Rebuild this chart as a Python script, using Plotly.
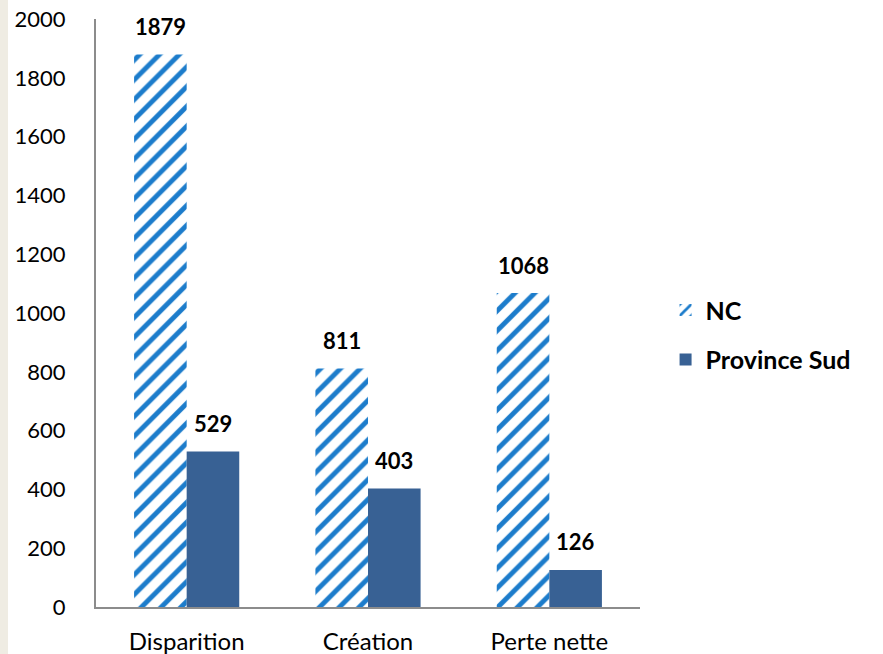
import plotly.graph_objects as go

categories = ["Disparition", "Création", "Perte nette"]
nc_values = [1879, 811, 1068]
sud_values = [529, 403, 126]
y_ticks = list(range(0, 2001, 200))

NC_BLUE = "#1C7CCB"
SUD_BLUE = "#386194"
AXIS_GREY = "#8C8C8C"
FONT = "Lato, 'Open Sans', sans-serif"

fig = go.Figure()

fig.add_trace(
    go.Bar(
        x=categories, y=nc_values, name="<b>NC</b>",
        legendgroup="nc",
        marker=dict(
            color="white",
            line=dict(width=0),
            pattern=dict(shape="/", fgcolor=NC_BLUE, bgcolor="white",
                         size=14, solidity=0.35, fillmode="replace"),
        ),
    )
)
fig.add_trace(
    go.Bar(
        x=categories, y=sud_values, name="<b>Province Sud</b>",
        legendgroup="sud",
        marker=dict(color=SUD_BLUE, line=dict(width=0)),
    )
)

# value labels above each bar
for cat, v in zip(categories, nc_values):
    fig.add_annotation(x=cat, y=v, text=f"<b>{v}</b>", showarrow=False,
                       xshift=-26, yshift=28, yanchor="middle",
                       font=dict(size=22, color="black", family=FONT))
for cat, v in zip(categories, sud_values):
    fig.add_annotation(x=cat, y=v, text=f"<b>{v}</b>", showarrow=False,
                       xshift=26, yshift=28, yanchor="middle",
                       font=dict(size=22, color="black", family=FONT))

# beige strip on the left edge
fig.add_shape(type="rect", xref="paper", yref="paper",
              x0=-96 / 544, x1=-88 / 544, y0=-47 / 588, y1=1 + 19 / 588,
              fillcolor="#EFECE3", line=dict(width=0), layer="below")

fig.update_layout(
    width=883, height=654,
    margin=dict(l=96, r=243, t=19, b=47, autoexpand=False),
    paper_bgcolor="white", plot_bgcolor="white",
    barmode="group", bargap=0.42, bargroupgap=0,
    font=dict(family=FONT, size=22, color="black"),
    showlegend=True,
    legend=dict(x=1.047, y=0.463, xanchor="left", yanchor="middle",
                tracegroupgap=14, font=dict(size=25, color="black"),
                bgcolor="rgba(0,0,0,0)"),
)
fig.update_xaxes(showline=True, linecolor=AXIS_GREY, linewidth=2,
                 showgrid=False, ticks="", ticklabelstandoff=12,
                 tickfont=dict(size=24), automargin=False)
fig.update_yaxes(range=[0, 2000], tickvals=y_ticks, showline=True,
                 linecolor=AXIS_GREY, linewidth=2, showgrid=False,
                 zeroline=False, ticks="", ticklabelstandoff=24,
                 tickfont=dict(size=22), automargin=False)

fig.write_html("out.html", config={"displayModeBar": False},
               post_script="document.body.style.margin='0';")
